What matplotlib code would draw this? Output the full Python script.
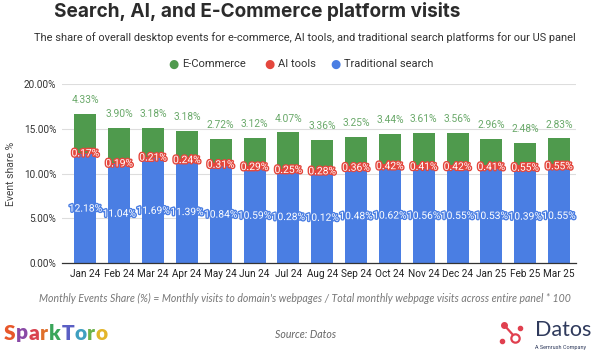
import matplotlib
matplotlib.use("Agg")
import matplotlib.pyplot as plt
import matplotlib.patheffects as pe
import numpy as np

months = ["Jan 24", "Feb 24", "Mar 24", "Apr 24", "May 24", "Jun 24", "Jul 24", "Aug 24",
          "Sep 24", "Oct 24", "Nov 24", "Dec 24", "Jan 25", "Feb 25", "Mar 25"]
search = [12.18, 11.04, 11.69, 11.39, 10.84, 10.59, 10.28, 10.12, 10.48, 10.62, 10.56, 10.55, 10.53, 10.39, 10.55]
ai = [0.17, 0.19, 0.21, 0.24, 0.31, 0.29, 0.25, 0.28, 0.36, 0.42, 0.41, 0.42, 0.41, 0.55, 0.55]
ecom = [4.33, 3.90, 3.18, 3.18, 2.72, 3.12, 4.07, 3.36, 3.25, 3.44, 3.61, 3.56, 2.96, 2.48, 2.83]
yticks = [0, 5, 10, 15, 20]

BLUE = "#4a7ee3"
RED = "#e4473d"
GREEN = "#4f9a4d"
GREEN_TXT = "#6aa96a"

plt.rcParams['font.family'] = ['Roboto', 'DejaVu Sans']

W, H = 600, 355
fig = plt.figure(figsize=(6, 3.55), dpi=100)
ax = fig.add_axes([0.103, 0.259, 0.857, 0.504])

x = np.arange(len(months))
s = np.array(search); a = np.array(ai); e = np.array(ecom)
w = 0.65
ax.bar(x, s, w, color=BLUE, zorder=2)
ax.bar(x, a, w, bottom=s, color=RED, zorder=2)
ax.bar(x, e, w, bottom=s + a, color=GREEN, zorder=2)

for i in range(len(x)):
    ax.text(x[i], s[i] / 2, f"{s[i]:.2f}%", ha="center", va="center", fontsize=7.4,
            color="white", zorder=4,
            path_effects=[pe.withStroke(linewidth=2, foreground=BLUE)])
    ax.text(x[i], s[i] + a[i] / 2, f"{a[i]:.2f}%", ha="center", va="center", fontsize=7.4,
            color="white", zorder=4,
            path_effects=[pe.withStroke(linewidth=2, foreground=RED)])
    ax.annotate(f"{e[i]:.2f}%", (x[i], s[i] + a[i] + e[i]), xytext=(0, 10),
                textcoords="offset points", ha="center", va="center", fontsize=7.4,
                color=GREEN_TXT, zorder=4)

ax.set_xlim(-0.7, 14.5)
ax.set_ylim(0, 20)
ax.set_yticks(yticks)
ax.set_yticklabels([f"{v:.2f}%" for v in yticks], fontsize=7.2, color="#333333")
ax.set_xticks(x)
ax.set_xticklabels(months, fontsize=7.2, color="#222222")
ax.tick_params(axis="both", length=0, pad=4)
ax.grid(axis="y", color="#dddddd", linewidth=0.8, zorder=0)
for sp in ["top", "right", "left"]:
    ax.spines[sp].set_visible(False)
ax.spines["bottom"].set_color("#333333")
ax.spines["bottom"].set_linewidth(0.9)
ax.set_ylabel("Event share %", fontsize=7.5, color="#444444", labelpad=6)

fig.text(257 / W, 1 - 17 / H, "Search, AI, and E-Commerce platform visits", ha="center", va="baseline",
         fontsize=13.7, fontweight="bold", color="#2b2b2b", family=["Inter", "DejaVu Sans"])
fig.text(304.5 / W, 1 - 41 / H, "The share of overall desktop events for e-commerce, AI tools, and traditional search platforms for our US panel",
         ha="center", va="baseline", fontsize=7.95, color="#333333")

# legend
ly = 1 - 64 / H
items = [("E-Commerce", GREEN, 173), ("AI tools", RED, 269), ("Traditional search", BLUE, 335)]
for lab, col, lx in items:
    fig.text(lx / W, ly, "\u25CF", ha="center", va="center", fontsize=8.5, color=col)
    fig.text((lx + 9) / W, ly, lab, ha="left", va="center", fontsize=8.0, color="#333333")

fig.text(304.5 / W, 1 - 298 / H, "Monthly Events Share (%) = Monthly visits to domain's webpages / Total monthly webpage visits across entire panel * 100",
         ha="center", va="center", fontsize=7.6, style="italic", color="#777777", family=["Lato", "DejaVu Sans"])
fig.text(306 / W, 1 - 335 / H, "Source: Datos", ha="center", va="center", fontsize=7.6, style="italic",
         color="#666666", family=["Lato", "DejaVu Sans"])

# SparkToro logo-ish text, letters placed by measured extents
logo_cols = ["#e8572a", "#8a4aa6", "#d9434f", "#e0702c", "#3aa55a", "#5a5fc4", "#3f9fc0", "#6bb24a", "#e3b52a"]
renderer = fig.canvas.get_renderer()
px = 4.0
for ch, col in zip("SparkToro", logo_cols):
    t = fig.text(px / W, 1 - 333 / H, ch, ha="left", va="center", fontsize=15, fontweight="heavy",
                 color=col, family=["Lato", "DejaVu Sans"])
    bb = t.get_window_extent(renderer=renderer)
    px += bb.width + 0.6

# Datos logo
fig.text(535 / W, 1 - 330 / H, "Datos", ha="left", va="center", fontsize=15.5, color="#2f3a5c",
         family=["Lato", "DejaVu Sans"])
fig.text(535 / W, 1 - 347 / H, "A Semrush Company", ha="left", va="center", fontsize=4, color="#2f3a5c")
lax = fig.add_axes([498 / W, 1 - 345 / H, 28 / W, 25 / H])
lax.set_xlim(0, 1); lax.set_ylim(0, 1); lax.axis("off")
lax.plot([0.2, 0.62], [0.82, 0.3], color="#e0404f", lw=1.6)
lax.plot([0.2], [0.82], "o", color="#e0404f", ms=4)
lax.plot([0.78], [0.68], "o", color="#e0404f", ms=3)
lax.plot([0.15], [0.15], "o", color="#e0404f", ms=3)
lax.plot([0.62], [0.28], "o", mfc="white", mec="#e0404f", mew=1.6, ms=6)

fig.savefig("out.png", dpi=100)
